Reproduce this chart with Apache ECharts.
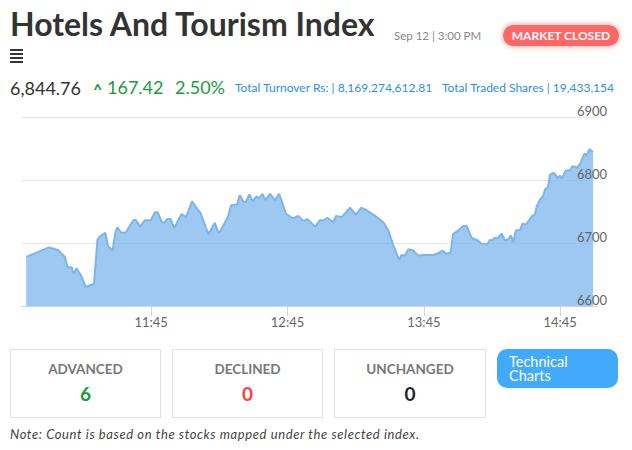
<!DOCTYPE html>
<html><head><meta charset="utf-8">
<script src="https://cdn.jsdelivr.net/npm/echarts@6/dist/echarts.min.js"></script>
<style>
html,body{margin:0;padding:0;width:632px;height:450px;overflow:hidden;background:#fff;font-family:Lato,'Noto Sans',sans-serif;}
#chart{position:absolute;left:0;top:0;width:632px;height:450px;}
.abs{position:absolute;white-space:nowrap;line-height:1;}
.box{position:absolute;top:349px;height:69px;border:1px solid #e2e2e2;box-sizing:border-box;text-align:center;}
.box .lab{position:absolute;left:0;right:0;top:13px;font-size:13.5px;font-weight:700;color:#777;line-height:1;}
.box .num{position:absolute;left:0;right:0;top:34px;font-size:19px;font-weight:700;line-height:1;}
</style></head><body>
<div id="chart"></div>
<div class="abs" style="left:10px;top:8px;font-size:32px;font-weight:700;color:#333">Hotels And Tourism Index</div>
<div class="abs" style="left:394px;top:30px;font-size:11.5px;color:#888">Sep 12 | 3:00 PM</div>
<div class="abs" style="left:503px;top:25px;width:116px;height:21px;border-radius:11px;background:#ff6666;box-shadow:0 0 6px rgba(255,90,90,0.6);color:#fff;font-size:12px;font-weight:700;text-align:center;line-height:21px">MARKET CLOSED</div>
<div class="abs" style="left:10px;top:49px;width:13px;">
  <div style="height:2px;background:#333;margin-bottom:2px"></div>
  <div style="height:2px;background:#333;margin-bottom:2px"></div>
  <div style="height:2px;background:#333;margin-bottom:2px"></div>
  <div style="height:2px;background:#333"></div>
</div>
<div class="abs" id="lastVal" style="left:10px;top:79px;font-size:18px;color:#333"></div>
<div class="abs" style="left:93px;top:81px;font-size:16px;color:#1b9a3e;font-weight:700">^</div>
<div class="abs" id="chg" style="left:107px;top:78px;font-size:18px;color:#1b9a3e"></div>
<div class="abs" id="pct" style="left:175px;top:78px;font-size:18px;color:#1b9a3e"></div>
<div class="abs" id="turn" style="left:235px;top:82px;font-size:12px;color:#2d8fe0"></div>
<div class="abs" id="shares" style="left:442px;top:82px;font-size:12px;color:#2d8fe0"></div>
<div id="boxes"></div>
<div class="abs" style="left:497px;top:349px;width:121px;height:39px;border-radius:10px;background:#42aafa;"></div>
<div class="abs" style="left:509px;top:354.5px;font-size:14.5px;color:#fff">Technical</div>
<div class="abs" style="left:509px;top:368.5px;font-size:14.5px;color:#fff">Charts</div>
<div class="abs" style="left:10px;top:428px;font-size:13px;letter-spacing:0.6px;font-style:italic;color:#444">Note: Count is based on the stocks mapped under the selected index.</div>
<script>
// ---- data ----
const times = ['10:50:00','11:00:00','11:04:00','11:07:00','11:08:10','11:10:00','11:11:00','11:12:10','11:14:20','11:16:10',
'11:18:00','11:19:50','11:21:20','11:22:20','11:24:50','11:26:00','11:28:00','11:29:20','11:30:10','11:31:40',
'11:33:40','11:37:10','11:38:10','11:40:10','11:42:10','11:44:50','11:46:40','11:47:50','11:49:40','11:51:00',
'11:52:00','11:53:30','11:55:10','11:58:20','12:00:20','12:03:00','12:05:40','12:06:40','12:10:10','12:13:00',
'12:14:30','12:15:10','12:18:50','12:20:10','12:22:50','12:24:00','12:25:30','12:26:40','12:28:10','12:29:40',
'12:31:20','12:32:30','12:34:00','12:35:10','12:37:20','12:39:30','12:41:20','12:44:20','12:47:30','12:49:40',
'12:52:00','12:53:40','12:57:10','12:59:10','13:01:00','13:02:30','13:05:10','13:06:20','13:08:50','13:12:30',
'13:15:10','13:17:20','13:19:50','13:23:30','13:27:10','13:29:20','13:31:30','13:34:10','13:35:10','13:36:40',
'13:38:10','13:40:20','13:42:30','13:44:40','13:49:10','13:51:20','13:53:10','13:55:00','13:56:50','13:57:50',
'14:00:10','14:02:20','14:03:50','14:06:00','14:08:50','14:10:20','14:13:00','14:14:00','14:15:10','14:16:00',
'14:17:40','14:19:10','14:20:40','14:22:10','14:23:20','14:24:20','14:25:30','14:27:20','14:28:30','14:29:50',
'14:32:40','14:33:50','14:34:40','14:36:10','14:37:30','14:38:20','14:39:40','14:40:30','14:41:50','14:42:40',
'14:43:50','14:44:50','14:45:40','14:47:30','14:49:20','14:50:20','14:51:30','14:52:10','14:53:40','14:55:40',
'14:56:40','14:57:50','14:58:30','14:59:30'];
const values = [6678,6693,6689,6678,6662,6661,6651,6660,6647,6630,
6633,6635,6705,6710,6716,6695,6688,6718,6725,6717,
6716,6736,6737,6726,6736,6736,6749,6749,6733,6733,
6738,6738,6724,6746,6741,6766,6752,6748,6714,6732,
6717,6717,6742,6760,6761,6776,6766,6765,6777,6766,
6774,6771,6778,6768,6778,6768,6778,6746,6739,6743,
6735,6738,6726,6736,6736,6740,6733,6743,6741,6756,
6745,6756,6752,6743,6733,6720,6697,6673,6681,6680,
6690,6688,6680,6681,6681,6684,6688,6683,6685,6714,
6720,6727,6727,6708,6704,6699,6698,6705,6704,6708,
6708,6715,6704,6706,6712,6701,6720,6721,6731,6729,
6743,6745,6758,6769,6775,6785,6789,6808,6811,6810,
6803,6807,6802,6815,6815,6822,6821,6819,6825,6842,
6839,6849,6847,6844.76];
const xTickLabels = ['11:45','12:45','13:45','14:45'];
const yTicks = [6600,6700,6800,6900];
const lastValue = '6,844.76';
const change = '167.42';
const changePct = '2.50%';
const turnover = '8,169,274,612.81';
const tradedShares = '19,433,154';
const statLabels = ['ADVANCED','DECLINED','UNCHANGED'];
const statValues = [6,0,0];
const statColors = ['#1b9a3e','#ff3b3b','#222'];

// ---- text ----
document.getElementById('lastVal').textContent = lastValue;
document.getElementById('chg').textContent = change;
document.getElementById('pct').textContent = changePct;
document.getElementById('turn').textContent = 'Total Turnover Rs: | ' + turnover;
document.getElementById('shares').textContent = 'Total Traded Shares | ' + tradedShares;
const boxLefts = [10,172,334];
const boxW = [151,151,152];
const bx = document.getElementById('boxes');
statLabels.forEach((l,i)=>{
  const d = document.createElement('div');
  d.className='box';
  d.style.left = boxLefts[i]+'px';
  d.style.width = boxW[i]+'px';
  d.innerHTML = '<div class="lab">'+l+'</div><div class="num" style="color:'+statColors[i]+'">'+statValues[i]+'</div>';
  bx.appendChild(d);
});

// ---- chart ----
function toMin(s){const p=s.split(':').map(Number);return p[0]*60+p[1]+(p[2]||0)/60;}
function fmt(m){const h=Math.floor(m/60), mm=Math.round(m-h*60);return h+':'+(mm<10?'0':'')+mm;}
const tickMins = xTickLabels.map(toMin);
const yMin = yTicks[0], yMax = yTicks[yTicks.length-1];
const chart = echarts.init(document.getElementById('chart'), null, {renderer:'svg'});
chart.setOption({
  animation:false,
  grid:{left:21,right:35,top:117,bottom:144},
  xAxis:{type:'value',min:647.7,max:901.2,
    splitLine:{show:false},
    axisLine:{show:true,lineStyle:{color:'#ccd6eb',width:1}},
    axisTick:{show:true,customValues:tickMins,length:10,lineStyle:{color:'#ccd6eb'}},
    axisLabel:{customValues:tickMins,formatter:v=>fmt(v),color:'#666',fontSize:13,margin:9,fontFamily:'Lato'}},
  yAxis:[
    {type:'value',position:'right',min:yMin,max:yMax,interval:100,
      axisLine:{show:false},axisTick:{show:false},axisLabel:{show:false},
      splitLine:{lineStyle:{color:'#e6e6e6'}}},
    {type:'value',position:'right',min:yMin,max:yMax,interval:100,z:10,
      axisLine:{show:false},axisTick:{show:false},splitLine:{show:false},
      axisLabel:{margin:-20,verticalAlign:'bottom',color:'#666',fontSize:13,fontFamily:'Lato',formatter:v=>String(v)}}
  ],
  series:[{type:'line',yAxisIndex:0,data:times.map((t,i)=>[toMin(t),values[i]]),showSymbol:false,
    lineStyle:{width:2,color:'#7cb5ec'},areaStyle:{color:'#7cb5ec',opacity:0.75}}]
});
</script>
</body></html>
